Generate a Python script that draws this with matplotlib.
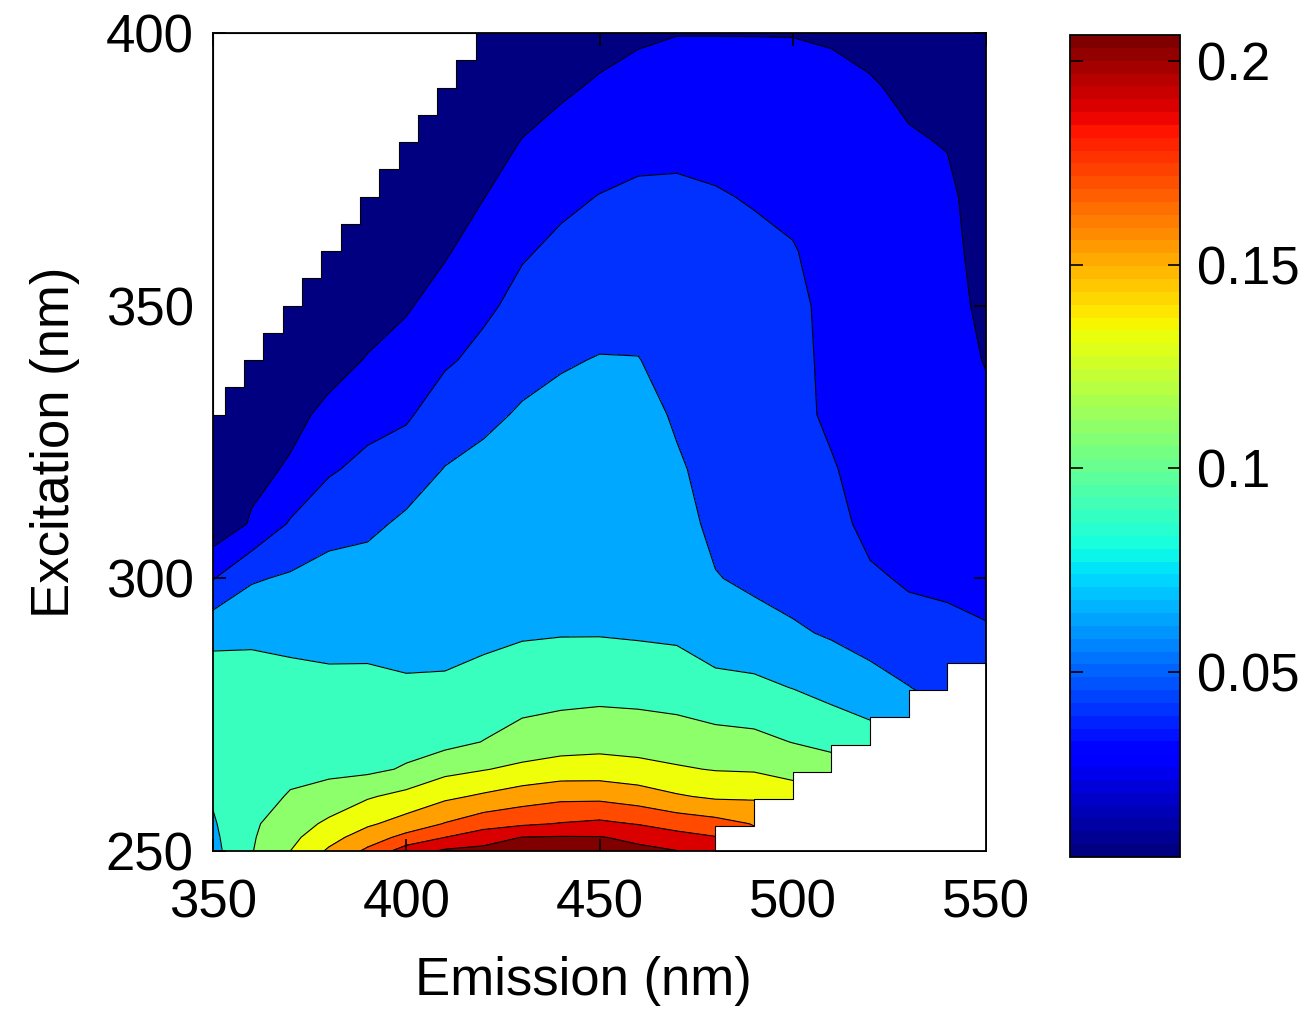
import numpy as np
import matplotlib
matplotlib.use('Agg')
import matplotlib.pyplot as plt
from matplotlib.colors import Normalize
from matplotlib.cm import ScalarMappable

plt.rcParams['font.family'] = ['Liberation Sans', 'DejaVu Sans']

# emission (columns) and excitation (rows) wavelengths, nm
emission_nm = [350, 360, 370, 380, 390, 400, 410, 420, 430, 440, 450,
               460, 470, 480, 490, 500, 510, 520, 530, 540, 550]
excitation_nm = [250, 252.5, 255, 260, 265, 270, 280, 290, 300, 310, 320,
                 330, 340, 350, 360, 370, 380, 390, 400]

# fluorescence intensity, one row per excitation wavelength
intensity = [
    [0.074, 0.099, 0.120, 0.143, 0.164, 0.190, 0.203, 0.2055, 0.2062, 0.2064, 0.2062, 0.204, 0.2005, 0.190, 0.170, 0.160, 0.150, 0.140, 0.130, 0.120, 0.110],  # 250
    [0.076, 0.098, 0.115, 0.133, 0.150, 0.166, 0.180, 0.191, 0.2005, 0.2015, 0.201, 0.196, 0.187, 0.181, 0.165, 0.155, 0.145, 0.135, 0.125, 0.115, 0.105],  # 252.5
    [0.078, 0.097, 0.110, 0.124, 0.137, 0.148, 0.161, 0.172, 0.177, 0.181, 0.184, 0.179, 0.172, 0.167, 0.159, 0.150, 0.140, 0.130, 0.120, 0.110, 0.100],  # 255
    [0.082, 0.095, 0.101, 0.107, 0.118, 0.126, 0.136, 0.143, 0.150, 0.155, 0.155, 0.150, 0.142, 0.137, 0.137, 0.130, 0.125, 0.120, 0.110, 0.100, 0.090],  # 260
    [0.087, 0.093, 0.097, 0.096, 0.0956, 0.102, 0.114, 0.119, 0.1245, 0.1285, 0.129, 0.126, 0.122, 0.119, 0.118, 0.113, 0.108, 0.100, 0.095, 0.085, 0.080],  # 265
    [0.091, 0.092, 0.095, 0.093, 0.094, 0.093, 0.094, 0.1005, 0.107, 0.111, 0.113, 0.112, 0.110, 0.107, 0.105, 0.0995, 0.095, 0.087, 0.080, 0.070, 0.065],  # 270
    [0.090, 0.089, 0.090, 0.087, 0.087, 0.0815, 0.0815, 0.086, 0.091, 0.092, 0.093, 0.092, 0.090, 0.085, 0.084, 0.0795, 0.073, 0.0695, 0.0605, 0.053, 0.050],  # 280
    [0.075, 0.076, 0.0718, 0.0707, 0.071, 0.0757, 0.0765, 0.076, 0.078, 0.079, 0.079, 0.078, 0.077, 0.071, 0.068, 0.0625, 0.058, 0.050, 0.046, 0.045, 0.042],  # 290
    [0.039, 0.058, 0.0625, 0.0625, 0.066, 0.069, 0.072, 0.073, 0.074, 0.075, 0.076, 0.076, 0.072, 0.061, 0.056, 0.053, 0.050, 0.0425, 0.038, 0.036, 0.033],  # 300
    [0.006, 0.022, 0.042, 0.0575, 0.057, 0.0625, 0.067, 0.070, 0.071, 0.073, 0.074, 0.074, 0.068, 0.055, 0.052, 0.048, 0.046, 0.035, 0.032, 0.030, 0.028],  # 310
    [0.005, 0.015, 0.022, 0.037, 0.047, 0.053, 0.0605, 0.065, 0.068, 0.071, 0.072, 0.072, 0.063, 0.052, 0.049, 0.046, 0.0415, 0.033, 0.029, 0.027, 0.025],  # 320
    [0.005, 0.010, 0.0153, 0.024, 0.031, 0.037, 0.052, 0.056, 0.062, 0.066, 0.069, 0.069, 0.057, 0.049, 0.047, 0.045, 0.037, 0.031, 0.027, 0.025, 0.022],  # 330
    [0.005, 0.007, 0.012, 0.014, 0.021, 0.028, 0.037, 0.046, 0.054, 0.058, 0.061, 0.0605, 0.054, 0.047, 0.046, 0.045, 0.036, 0.030, 0.026, 0.024, 0.0195],  # 340
    [0.005, 0.005, 0.008, 0.010, 0.013, 0.018, 0.028, 0.036, 0.046, 0.050, 0.052, 0.054, 0.051, 0.046, 0.045, 0.0445, 0.035, 0.029, 0.025, 0.023, 0.018],  # 350
    [0.005, 0.005, 0.005, 0.008, 0.010, 0.013, 0.018, 0.029, 0.038, 0.044, 0.047, 0.049, 0.048, 0.044, 0.043, 0.041, 0.034, 0.028, 0.024, 0.023, 0.016],  # 360
    [0.005, 0.005, 0.005, 0.005, 0.008, 0.009, 0.013, 0.0195, 0.030, 0.036, 0.0405, 0.043, 0.043, 0.041, 0.039, 0.036, 0.032, 0.026, 0.023, 0.022, 0.015],  # 370
    [0.005, 0.005, 0.005, 0.005, 0.005, 0.007, 0.009, 0.014, 0.0205, 0.027, 0.031, 0.035, 0.036, 0.036, 0.033, 0.031, 0.029, 0.024, 0.021, 0.0195, 0.014],  # 380
    [0.005, 0.005, 0.005, 0.005, 0.005, 0.005, 0.007, 0.010, 0.014, 0.017, 0.0225, 0.027, 0.028, 0.028, 0.027, 0.0255, 0.025, 0.021, 0.018, 0.016, 0.012],  # 390
    [0.005, 0.005, 0.005, 0.005, 0.005, 0.005, 0.005, 0.007, 0.010, 0.012, 0.013, 0.017, 0.0195, 0.0195, 0.0195, 0.0195, 0.018, 0.017, 0.015, 0.013, 0.010],  # 400
]

# contour levels and colour range of the colour bar
contour_levels = [0.0, 0.02, 0.04, 0.06, 0.08, 0.10, 0.12, 0.14, 0.16, 0.18, 0.20, 0.21]
cbar_min, cbar_max = 0.0045, 0.2064
cbar_ticks = [0.05, 0.1, 0.15, 0.2]
cbar_ticklabels = ['0.05', '0.1', '0.15', '0.2']

# removed scatter regions (blank in the map)
rayleigh_ex = [330, 335, 340, 345, 350, 355, 360, 365, 370, 375, 380, 385, 390, 395, 400]
rayleigh_em = [353, 358, 363, 368, 373, 378, 383, 388, 393, 398, 403, 408, 413, 418, 420]
raman_ex = [250, 254.5, 259.5, 264.5, 269.5, 274.5, 279.5, 284.5]
raman_em = [480, 490, 500, 510, 520, 530, 540, 550]

# position of each filled band on the jet colormap
band_pos = [0.0, 0.115, 0.175, 0.29, 0.42, 0.52, 0.64, 0.74, 0.83, 0.92, 1.0]

fig = plt.figure(figsize=(13.11, 10.11), dpi=100)
ax = fig.add_axes([213 / 1311, 160 / 1011, 773 / 1311, 818 / 1011])

Z = np.array(intensity)
ax.contourf(emission_nm, excitation_nm, Z, levels=contour_levels,
            colors=plt.cm.jet(band_pos))
ax.contour(emission_nm, excitation_nm, Z, levels=contour_levels[1:-1],
           colors='k', linewidths=0.8)

# blank out the scatter regions
ax.fill_betweenx(rayleigh_ex, 350, rayleigh_em, step='post',
                 facecolor='white', edgecolor='k', linewidth=0.8, zorder=3)
ax.fill_betweenx(raman_ex, raman_em, 550, step='post',
                 facecolor='white', edgecolor='k', linewidth=0.8, zorder=3)

ax.set_xlim(350, 550)
ax.set_ylim(250, 400)
ax.set_xticks([350, 400, 450, 500, 550])
ax.set_yticks([250, 300, 350, 400])
ax.tick_params(direction='in', length=9, width=1.2, top=True, right=True,
               labelsize=38)
ax.tick_params(axis='x', pad=20)
ax.tick_params(axis='y', pad=14)
for s in ax.spines.values():
    s.set_linewidth(1.3)
    s.set_zorder(5)
ax.set_xlabel('Emission (nm)', fontsize=38)
ax.set_ylabel('Excitation (nm)', fontsize=38)
ax.xaxis.set_label_coords(0.479, -0.128)
ax.yaxis.set_label_coords(-0.172, 0.5)

# colour bar
cax = fig.add_axes([1070 / 1311, 154 / 1011, 110 / 1311, 822 / 1011])
sm = ScalarMappable(norm=Normalize(cbar_min, cbar_max), cmap=plt.get_cmap('jet', 64))
cb = fig.colorbar(sm, cax=cax, ticks=cbar_ticks)
cb.ax.set_yticklabels(cbar_ticklabels)
cb.ax.tick_params(direction='in', length=9, width=1.2, left=True, right=True,
                  labelsize=38, pad=12)
cb.outline.set_linewidth(1.3)

fig.savefig('out.png', dpi=100)
